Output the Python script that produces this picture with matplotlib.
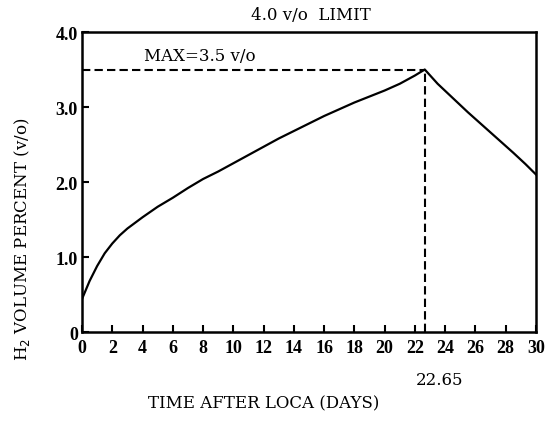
import numpy as np
import matplotlib.pyplot as plt

# H2 volume percent after LOCA
days = [0, 0.5, 1, 1.5, 2, 2.5, 3, 4, 5, 6, 7, 8, 9, 10, 11, 12, 13, 14, 15, 16, 17, 18,
        19, 20, 21, 22, 22.65, 23.5, 24.5, 25.5, 26.5, 27.5, 28.5, 29.3, 30]
h2 = [0.44, 0.68, 0.88, 1.05, 1.18, 1.29, 1.38, 1.53, 1.67, 1.79, 1.92, 2.04, 2.14, 2.25,
      2.36, 2.47, 2.58, 2.68, 2.78, 2.88, 2.97, 3.06, 3.14, 3.22, 3.31, 3.42, 3.5,
      3.31, 3.12, 2.93, 2.75, 2.57, 2.39, 2.24, 2.1]
peak_day = 22.65
peak_val = 3.5
xticks = list(range(0, 31, 2))
yticks = [0, 1.0, 2.0, 3.0, 4.0]
ytick_labels = ['0', '1.0', '2.0', '3.0', '4.0']

plt.rcParams['font.family'] = ['DejaVu Serif']

fig = plt.figure(figsize=(5.56, 4.27), dpi=100)
ax = fig.add_axes([0.1475, 0.2201, 0.8165, 0.7026])

ax.plot(days, h2, color='black', lw=1.6)
ax.plot([0, peak_day], [peak_val, peak_val], color='black', lw=1.5, ls=(0, (4, 2)))
ax.plot([peak_day, peak_day], [0, peak_val], color='black', lw=1.5, ls=(0, (4, 2)))

ax.set_xlim(0, 30)
ax.set_ylim(0, 4.0)
ax.set_xticks(xticks)
ax.set_yticks(yticks)
ax.set_yticklabels(ytick_labels)
ax.tick_params(direction='in', length=5, width=1.5, labelsize=13)
ax.tick_params(axis='x', pad=5)
ax.tick_params(axis='y', pad=3)
for lbl in ax.get_xticklabels() + ax.get_yticklabels():
    lbl.set_fontfamily('Liberation Serif')
    lbl.set_fontweight('bold')
for s in ax.spines.values():
    s.set_linewidth(1.8)

ax.text(4.1, 3.57, 'MAX=3.5 v/o', fontsize=12, va='bottom', ha='left')
fig.text(0.56, 0.963, '4.0 v/o  LIMIT', fontsize=12, ha='center', va='center')

fig.text(0.79, 0.11, '22.65', fontsize=12, ha='center', va='center')
fig.text(0.475, 0.055, 'TIME AFTER LOCA (DAYS)', fontsize=12, ha='center', va='center')
fig.text(0.04, 0.44, 'H$_2$ VOLUME PERCENT (v/o)', fontsize=12, ha='center', va='center',
         rotation=90)

fig.savefig('out.png', dpi=100)
